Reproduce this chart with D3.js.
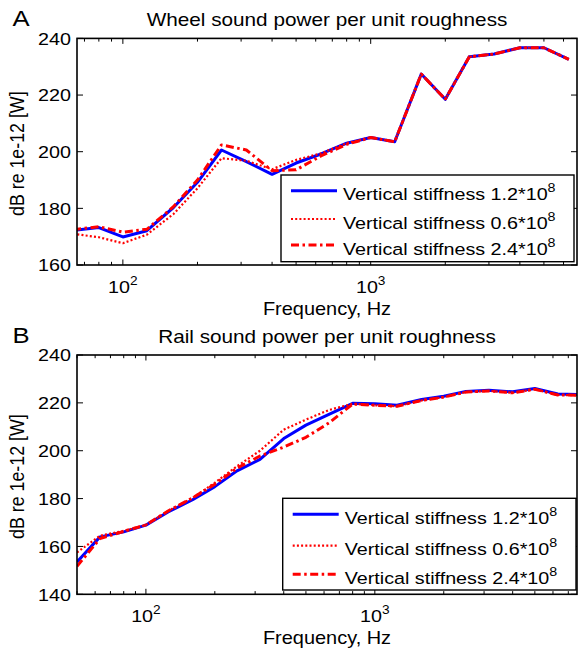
<!DOCTYPE html>
<html><head><meta charset="utf-8">
<script src="https://cdn.jsdelivr.net/npm/d3@7"></script>
<style>body{margin:0;background:#fff}svg{display:block}text{font-family:"Liberation Sans",Arial,sans-serif;fill:#000}</style>
</head><body><div id="c"></div>
<script>
// ---- Data ----
const freqA = [63,80,100,125,160,200,250,315,400,500,630,800,1000,1250,1600,2000,2500,3150,4000,5000,6300];
const wheel12 = [172.2,173.2,169.9,172.1,180.3,189.2,200.6,196.5,192.0,196.0,199.2,203.0,205.0,203.5,227.4,218.5,233.5,234.5,236.7,236.7,232.6];
const wheel06 = [171.0,169.8,167.7,170.7,178.0,187.1,197.7,196.8,193.8,197.1,199.4,203.0,205.0,203.5,227.4,218.5,233.5,234.5,236.7,236.7,232.6];
const wheel24 = [172.5,173.5,171.6,172.6,180.6,190.0,202.4,200.6,193.3,193.6,198.5,202.6,205.0,203.5,227.4,218.5,233.5,234.5,236.7,236.7,232.6];

const freqB = [50,63,80,100,125,160,200,250,315,400,500,630,800,1000,1250,1600,2000,2500,3150,4000,5000,6300,8000];
const rail12 = [153.5,164.0,166.1,168.9,174.4,179.5,185.0,191.6,196.4,205.1,210.7,215.2,219.8,219.6,219.0,221.4,222.8,224.8,225.3,224.6,226.0,223.7,223.5];
const rail06 = [157.5,164.5,166.5,169.0,174.8,180.3,186.6,193.5,200.0,208.8,213.0,217.0,219.6,219.0,218.6,221.0,222.4,224.5,225.0,224.2,225.7,223.3,223.2];
const rail24 = [151.7,163.3,166.3,169.0,174.8,180.3,186.0,192.7,197.8,201.5,205.6,211.6,219.5,219.0,218.6,221.0,222.4,224.5,225.0,224.2,225.7,223.3,223.2];

const yTicksA = [160,180,200,220,240];
const yTicksB = [140,160,180,200,220,240];
const xMajor = [100,1000];
const legendLabels = ["Vertical stiffness 1.2*10","Vertical stiffness 0.6*10","Vertical stiffness 2.4*10"];
const legendSup = "8";

// ---- Drawing ----
const W = 579, H = 648, SX = 1.14;
const svg = d3.select("#c").append("svg").attr("width",W).attr("height",H);
svg.append("rect").attr("width",W).attr("height",H).attr("fill","#fff");

const styles = [
  {stroke:"#0000ff", width:3, dash:null},
  {stroke:"#ff0000", width:2.2, dash:"2,2.2"},
  {stroke:"#ff0000", width:3, dash:"8,3.5,2.5,3.5"}
];

function txt(g, x, y, anchor, size, rot){
  return g.append("text")
    .attr("transform", `translate(${x},${y}) scale(${SX},1)` + (rot ? ` rotate(${rot})` : ""))
    .attr("text-anchor", anchor).attr("font-size", size);
}

function panel(opt){
  const {id, letter, title, xDom, yDom, L, R, T, B, freq, series, yTicks, leg} = opt;
  const g = svg.append("g");
  const x = d3.scaleLog().domain(xDom).range([L,R]);
  const y = d3.scaleLinear().domain(yDom).range([B,T]);
  const clipId = "clip"+id;
  svg.append("clipPath").attr("id",clipId).append("rect")
    .attr("x",L).attr("y",T).attr("width",R-L).attr("height",B-T);

  const line = d3.line().x((d,i)=>x(freq[i])).y(d=>y(d));
  series.forEach((s,k)=>{
    g.append("path").datum(s).attr("d",line).attr("clip-path",`url(#${clipId})`)
      .attr("fill","none").attr("stroke",styles[k].stroke).attr("stroke-width",styles[k].width)
      .attr("stroke-dasharray",styles[k].dash).attr("stroke-linejoin","round");
  });

  const tg = g.append("g").attr("stroke","#000").attr("stroke-width",1);
  const lo = Math.ceil(Math.log10(xDom[0])), hi = Math.floor(Math.log10(xDom[1]));
  const minor = [];
  for (let e = lo-1; e <= hi; e++) for (let m = 1; m < 10; m++) {
    const v = m*Math.pow(10,e);
    if (v >= xDom[0] && v <= xDom[1]) minor.push(v);
  }
  minor.forEach(v=>{
    const isMaj = xMajor.includes(v);
    const len = isMaj ? 5.5 : 3.2;
    tg.append("line").attr("x1",x(v)).attr("x2",x(v)).attr("y1",B).attr("y2",B-len);
    tg.append("line").attr("x1",x(v)).attr("x2",x(v)).attr("y1",T).attr("y2",T+len);
  });
  yTicks.forEach(v=>{
    tg.append("line").attr("x1",L).attr("x2",L+6).attr("y1",y(v)).attr("y2",y(v));
    tg.append("line").attr("x1",R).attr("x2",R-6).attr("y1",y(v)).attr("y2",y(v));
  });
  g.append("rect").attr("x",L).attr("y",T).attr("width",R-L).attr("height",B-T)
    .attr("fill","none").attr("stroke","#000").attr("stroke-width",1.6);

  yTicks.forEach(v=>{
    txt(g, L-6, y(v)+6.2, "end", 17.3).text(v);
  });
  xMajor.forEach(v=>{
    const t = txt(g, x(v), B+28, "middle", 17.3);
    t.append("tspan").text("10");
    t.append("tspan").attr("dy",-8).attr("font-size",12).text(Math.round(Math.log10(v)));
  });
  txt(g, (L+R)/2, B+50, "middle", 17.5).text("Frequency, Hz");
  txt(g, 24, (T+B)/2+2, "middle", 17.8, -90).text("dB re 1e-12 [W]");
  txt(g, (L+R)/2, T-12, "middle", 18.2).text(title);
  txt(g, 12.5, T-12, "start", 22.5).text(letter);

  g.append("rect").attr("x",leg.x0).attr("y",leg.y0).attr("width",leg.x1-leg.x0).attr("height",leg.y1-leg.y0)
    .attr("fill","#fff").attr("stroke","#000").attr("stroke-width",1.4);
  legendLabels.forEach((lab,k)=>{
    const ly = leg.rows[k];
    g.append("line").attr("x1",leg.x0+10).attr("x2",leg.x0+56).attr("y1",ly).attr("y2",ly)
      .attr("stroke",styles[k].stroke).attr("stroke-width",styles[k].width)
      .attr("stroke-dasharray",styles[k].dash);
    const t = txt(g, leg.x0+62, ly+9.5, "start", 17.3);
    t.append("tspan").text(lab);
    t.append("tspan").attr("dy",-8).attr("font-size",12.5).text(legendSup);
  });
}

panel({id:"A", letter:"A", title:"Wheel sound power per unit roughness",
  xDom:[65.3,6800], yDom:[160,240], L:77, R:577, T:38.4, B:265,
  freq:freqA, series:[wheel12,wheel06,wheel24], yTicks:yTicksA,
  leg:{x0:281, x1:574, y0:175, y1:261.7, rows:[190.7,219,245]}});

panel({id:"B", letter:"B", title:"Rail sound power per unit roughness",
  xDom:[50,7640], yDom:[140,240], L:77, R:577, T:355, B:594.3,
  freq:freqB, series:[rail12,rail06,rail24], yTicks:yTicksB,
  leg:{x0:282.7, x1:576, y0:498.3, y1:590, rows:[514.3,545.7,574.3]}});
</script></body></html>
